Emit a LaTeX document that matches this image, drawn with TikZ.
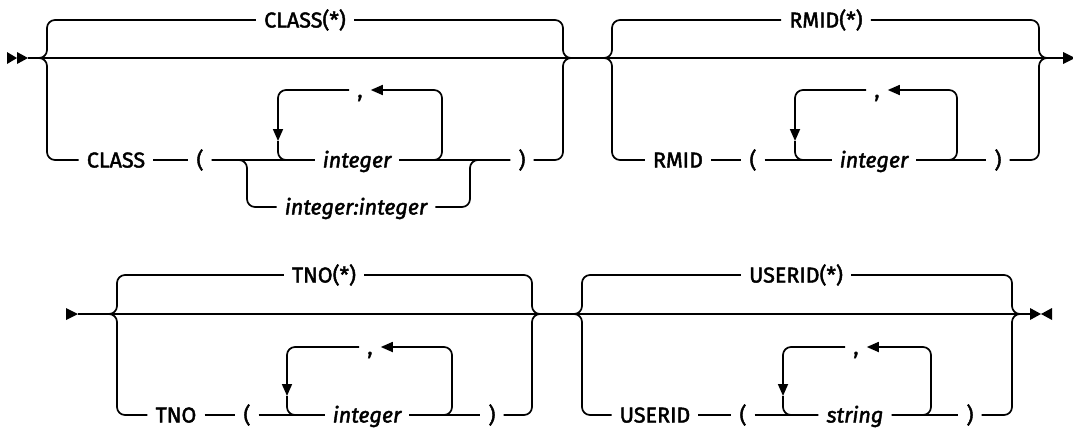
\documentclass[tikz,border=0pt]{standalone}
\usepackage{fontspec}
\setmainfont{Fira Sans}[FakeBold=2, ItalicFeatures={FakeBold=2}]
\usetikzlibrary{arrows.meta}

\tikzset{
  word/.style={inner xsep=8pt, inner ysep=0pt, text height=15pt, text depth=0pt,
    font=\fontsize{21.5}{24}\selectfont},
  var/.style={word, font=\fontsize{21.5}{24}\selectfont\itshape},
  sepmark/.style={word},
  rail/.style={line width=1.7pt, rounded corners=8pt},
  back/.style={rail, -{Triangle[length=12pt,width=10pt]}},
}

\begin{document}
\begin{tikzpicture}[x=1pt, y=-1pt]
  \useasboundingbox (0,0) rectangle (1073,429);

  % first row
  \coordinate (r1s) at (28,58);
  \coordinate (r1e) at (1063,58);
  \draw[rail] (r1s) -- (r1e);
  \fill (7,52) -- (17,58) -- (7,64) -- cycle;
  \fill (17,52) -- (28,58) -- (17,64) -- cycle;
  \fill (1063,52) -- (1075,58) -- (1063,64) -- cycle;

  % CLASS
  \coordinate (g1in) at (39,58);
  \coordinate (g1r) at (563,58);
  \coordinate (g1out) at (571,58);
  \node[word] (clsstar) at (305,20) {CLASS(*)};
  \node[word] (clskw) at (116,160) {CLASS};
  \node[word] (clslp) at (200,160) {(};
  \node[var] (clsint) at (357,160) {integer};
  \node[sepmark] (clscomma) at (360,90) {,};
  \node[var] (clsrange) at (356,207) {integer:integer};
  \node[word] (clsrp) at (522,160) {)};
  \coordinate (clstop) at (442,90);
  \coordinate (clsdown) at (278,141);
  \coordinate (clsaltl) at (247,160);
  \coordinate (clsaltr) at (470,160);
  \draw[rail] (g1in) -- ++(8,0) |- (clsstar.west);
  \draw[rail] (clsstar.east) -| (g1r) -- (g1out);
  \draw[rail] (g1in) -- ++(8,0) |- (clskw.west);
  \draw[rail] (clskw.east) -- (clslp.west);
  \draw[rail] (clslp.east) -- (clsint.west);
  \draw[rail] (clsint.east) -- (clsrp.west);
  \draw[rail] (clsrp.east) -| (g1r) -- (g1out);
  \draw[back] (clsint.east) -| (clstop) -- (clscomma.east);
  \draw[back] (clscomma.west) -| (clsdown);
  \draw[rail] (clsdown) |- (clsint.west);
  \draw[rail] (clslp.east) -- (clsaltl) |- (clsrange.west);
  \draw[rail] (clsrange.east) -| (clsaltr) -- (clsrp.west);

  % RMID
  \coordinate (g2in) at (604,58);
  \coordinate (g2r) at (1039,58);
  \coordinate (g2out) at (1047,58);
  \node[word] (rmidstar) at (826,20) {RMID(*)};
  \node[word] (rmidkw) at (678,160) {RMID};
  \node[word] (rmidlp) at (753,160) {(};
  \node[var] (rmidint) at (874,160) {integer};
  \node[sepmark] (rmidcomma) at (877,90) {,};
  \node[word] (rmidrp) at (998,160) {)};
  \coordinate (rmidtop) at (957,90);
  \coordinate (rmiddown) at (795,141);
  \draw[rail] (g2in) -- ++(8,0) |- (rmidstar.west);
  \draw[rail] (rmidstar.east) -| (g2r) -- (g2out);
  \draw[rail] (g2in) -- ++(8,0) |- (rmidkw.west);
  \draw[rail] (rmidkw.east) -- (rmidlp.west);
  \draw[rail] (rmidlp.east) -- (rmidint.west);
  \draw[rail] (rmidint.east) -- (rmidrp.west);
  \draw[rail] (rmidrp.east) -| (g2r) -- (g2out);
  \draw[back] (rmidint.east) -| (rmidtop) -- (rmidcomma.east);
  \draw[back] (rmidcomma.west) -| (rmiddown);
  \draw[rail] (rmiddown) |- (rmidint.west);

  % second row
  \coordinate (r2s) at (78,314);
  \coordinate (r2e) at (1030,314);
  \draw[rail] (r2s) -- (r2e);
  \fill (66,308) -- (78,314) -- (66,320) -- cycle;
  \fill (1030,308) -- (1041,314) -- (1030,320) -- cycle;
  \fill (1052,308) -- (1041,314) -- (1052,320) -- cycle;

  % TNO
  \coordinate (g3in) at (109,314);
  \coordinate (g3r) at (532,314);
  \coordinate (g3out) at (540,314);
  \node[word] (tnostar) at (324,275) {TNO(*)};
  \node[word] (tnokw) at (176,415) {TNO};
  \node[word] (tnolp) at (247,415) {(};
  \node[var] (tnoint) at (367,415) {integer};
  \node[sepmark] (tnocomma) at (370,347) {,};
  \node[word] (tnorp) at (492,415) {)};
  \coordinate (tnotop) at (452,347);
  \coordinate (tnodown) at (287,396);
  \draw[rail] (g3in) -- ++(8,0) |- (tnostar.west);
  \draw[rail] (tnostar.east) -| (g3r) -- (g3out);
  \draw[rail] (g3in) -- ++(8,0) |- (tnokw.west);
  \draw[rail] (tnokw.east) -- (tnolp.west);
  \draw[rail] (tnolp.east) -- (tnoint.west);
  \draw[rail] (tnoint.east) -- (tnorp.west);
  \draw[rail] (tnorp.east) -| (g3r) -- (g3out);
  \draw[back] (tnoint.east) -| (tnotop) -- (tnocomma.east);
  \draw[back] (tnocomma.west) -| (tnodown);
  \draw[rail] (tnodown) |- (tnoint.west);

  % USERID
  \coordinate (g4in) at (574,314);
  \coordinate (g4r) at (1012,314);
  \coordinate (g4out) at (1020,314);
  \node[word] (usrstar) at (796,275) {USERID(*)};
  \node[word] (usrkw) at (655,415) {USERID};
  \node[word] (usrlp) at (743,415) {(};
  \node[var] (usrstr) at (855,415) {string};
  \node[sepmark] (usrcomma) at (856,347) {,};
  \node[word] (usrrp) at (970,415) {)};
  \coordinate (usrtop) at (931,347);
  \coordinate (usrdown) at (783,396);
  \draw[rail] (g4in) -- ++(8,0) |- (usrstar.west);
  \draw[rail] (usrstar.east) -| (g4r) -- (g4out);
  \draw[rail] (g4in) -- ++(8,0) |- (usrkw.west);
  \draw[rail] (usrkw.east) -- (usrlp.west);
  \draw[rail] (usrlp.east) -- (usrstr.west);
  \draw[rail] (usrstr.east) -- (usrrp.west);
  \draw[rail] (usrrp.east) -| (g4r) -- (g4out);
  \draw[back] (usrstr.east) -| (usrtop) -- (usrcomma.east);
  \draw[back] (usrcomma.west) -| (usrdown);
  \draw[rail] (usrdown) |- (usrstr.west);
\end{tikzpicture}
\end{document}
